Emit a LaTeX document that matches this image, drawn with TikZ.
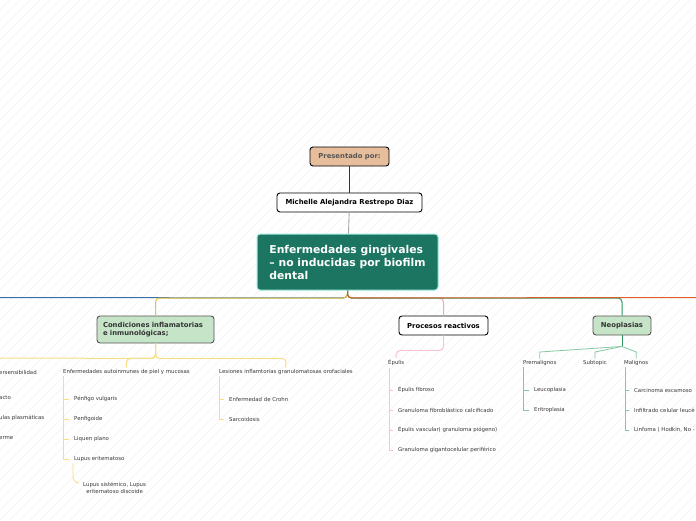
\documentclass[tikz,border=0pt]{standalone}
\usepackage{fontspec}
\setmainfont{DejaVu Sans}
\usetikzlibrary{positioning}
\definecolor{hatch}{HTML}{F5F5F5}
\definecolor{maingreen}{HTML}{1B7560}
\definecolor{mainrim}{HTML}{9FEADB}
\definecolor{paleleaf}{HTML}{C6E4C8}
\definecolor{tan}{HTML}{E6BE9C}
\definecolor{rimgray}{HTML}{555555}
\definecolor{leafgray}{HTML}{383838}
\definecolor{blueline}{HTML}{3D6DA8}
\definecolor{yellowline}{HTML}{E6C43E}
\definecolor{yellowsub}{HTML}{F7DD84}
\definecolor{pinkline}{HTML}{F2A6BE}
\definecolor{pinksub}{HTML}{F7C4D4}
\definecolor{greenline}{HTML}{2E9A62}
\definecolor{greensub}{HTML}{86C7A3}
\definecolor{orangeline}{HTML}{DC5F28}
\tikzset{
  topic/.style={draw, line width=0.9pt, rounded corners=3pt, inner sep=0pt,
    minimum height=19pt, font=\bfseries\fontsize{6.85}{8}\selectfont},
  leaf/.style={anchor=west, inner xsep=0pt, inner ysep=1.5pt, text=leafgray,
    font=\fontsize{5.4}{6.6}\selectfont},
  branch/.style={line width=1pt, rounded corners=4pt},
  twig/.style={line width=0.8pt},
}
\begin{document}
\begin{tikzpicture}[x=1pt, y=-1pt]
  \useasboundingbox (0,0) rectangle (696,520);
  \begin{scope}
    \clip (0,0) rectangle (696,520);
    \foreach \i in {0,10,...,1220}
      \draw[hatch, line width=0.9pt] (\i-520,520) -- (\i,0);
  \end{scope}
  % central topic
  \node[topic, fill=tan, text=rimgray, minimum width=79pt] (presented) at (349.5,156.5) {Presentado por:};
  \node[topic, fill=white, minimum width=145pt] (author) at (349.5,202.5) {Michelle Alejandra Restrepo Diaz};
  \node[draw=mainrim, fill=maingreen, line width=1pt, rounded corners=3pt, text=white,
    font=\bfseries\fontsize{10.8}{13}\selectfont, align=left,
    inner sep=0pt, minimum width=181pt, minimum height=56pt] (main) at (347.5,262)
    {Enfermedades gingivales\\– no inducidas por biofilm\\dental};
  \draw[rimgray!60!black, line width=0.9pt] (presented) -- (author);
  \draw[gray!70, line width=0.9pt] (author) -- (main);
  % main branches
  \node[topic, fill=paleleaf, draw=rimgray, text=black!80, minimum width=117pt, minimum height=27pt,
    align=left, text width=105pt, inner xsep=6pt, font=\bfseries\fontsize{6.85}{8}\selectfont]
    (cond) at (155.5,329.5) {Condiciones inflamatorias\\e inmunológicas;};
  \node[topic, fill=white, minimum width=89pt] (proc) at (443.5,325.5) {Procesos reactivos};
  \node[topic, fill=paleleaf, draw=rimgray, text=black!80, minimum width=58pt] (neo) at (622,325.5) {Neoplasias};
  \coordinate (blueend) at (0,297.5);
  \coordinate (orangeend) at (696,297.5);
  \draw[branch, blueline] (main.south) -- ++(0,7.5) -- (blueend);
  \draw[branch, yellowline] (main.south) -- ++(0,7.5) -| (cond.north);
  \draw[branch, pinkline] (main.south) -- ++(0,7.5) -| (proc.north);
  \draw[branch, greenline] (main.south) -- ++(0,7.5) -| (neo.north);
  \draw[branch, orangeline] (main.south) -- ++(0,7.5) -- (orangeend);
  % condiciones
  \node[leaf] (hyper) at (-1,372) {ersensibilidad};
  \node[leaf] (contact) at (-1,398) {acto};
  \node[leaf] (plasma) at (-1,418) {ulas plasmáticas};
  \node[leaf] (multi) at (-1,438) {erme};
  \node[leaf] (autoin) at (63,372) {Enfermedades autoinmunes de piel y mucosas};
  \node[leaf] (granul) at (219,372) {Lesiones inflamtorias granulomatosas orofaciales};
  \node[leaf] (penfigo) at (74,399) {Pénfigo vulgaris};
  \node[leaf] (penfigoide) at (74,419) {Penfigoide};
  \node[leaf] (liquen) at (74,439) {Liquen plano};
  \node[leaf] (lupus) at (74,459) {Lupus eritematoso};
  \node[leaf, align=center] (sistem) at (83,488) {Lupus sistémico, Lupus\\eritematoso discoide};
  \node[leaf] (crohn) at (229,399) {Enfermedad de Crohn};
  \node[leaf] (sarco) at (229,419) {Sarcoidosis};
  \coordinate (yellowend) at (0,358);
  \draw[branch, yellowsub] (cond.south) -- ++(0,15) -- (yellowend);
  \draw[branch, yellowsub] (cond.south) -- ++(0,15) -| (autoin.north);
  \draw[branch, yellowsub] (cond.south) -- ++(0,15) -| (granul.north);
  \foreach \kid in {penfigo,penfigoide,liquen,lupus}
    \draw[twig, yellowsub] ([xshift=0.5pt]autoin.south west) |- ([xshift=-5pt]\kid.west);
  \foreach \kid in {crohn,sarco}
    \draw[twig, yellowsub] ([xshift=0.5pt]granul.south west) |- ([xshift=-5pt]\kid.west);
  \draw[twig, yellowsub, rounded corners=6pt] ([xshift=-1pt]lupus.south west) |- ([xshift=-6pt,yshift=-2pt]sistem.north west);
  % procesos reactivos
  \node[leaf] (epulis) at (388,363) {Épulis};
  \node[leaf] (fibroso) at (398,390) {Épulis fibroso};
  \node[leaf] (calcif) at (398,410) {Granuloma fibroblástico calcificado};
  \node[leaf] (vascular) at (398,430) {Épulis vascular( granuloma piógeno)};
  \node[leaf] (gigant) at (398,450) {Granuloma gigantocelular periférico};
  \draw[branch, pinksub] (proc.south) -- ++(0,15) -| (epulis.north);
  \foreach \kid in {fibroso,calcif,vascular,gigant}
    \draw[twig, pinksub] ([xshift=1pt]epulis.south west) |- ([xshift=-5pt]\kid.west);
  % neoplasias
  \node[leaf] (premal) at (523,363) {Premalignos};
  \node[leaf] (subtopic) at (583,363) {Subtopic};
  \node[leaf] (malig) at (624,363) {Malignos};
  \node[leaf] (leuco) at (534,390) {Leucoplasia};
  \node[leaf] (eritro) at (534,410) {Eritroplasia};
  \node[leaf] (carcin) at (634,390) {Carcinoma escamoso};
  \node[leaf] (infil) at (634,410) {Infiltrado celular leucé};
  \node[leaf] (linfo) at (634,430) {Linfoma ( Hodkin, No -};
  \draw[twig, greenline] (neo.south) -- ++(0,11) coordinate (neofork);
  \foreach \kid in {premal,subtopic,malig}
    \draw[twig, greensub] (neofork) -- (\kid.north |- 0,352) -- (\kid.north);
  \foreach \kid in {leuco,eritro}
    \draw[twig, greensub] ([xshift=0.5pt]premal.south west) |- ([xshift=-5pt]\kid.west);
  \foreach \kid in {carcin,infil,linfo}
    \draw[twig, greensub] ([xshift=1pt]malig.south west) |- ([xshift=-5pt]\kid.west);
\end{tikzpicture}
\end{document}
